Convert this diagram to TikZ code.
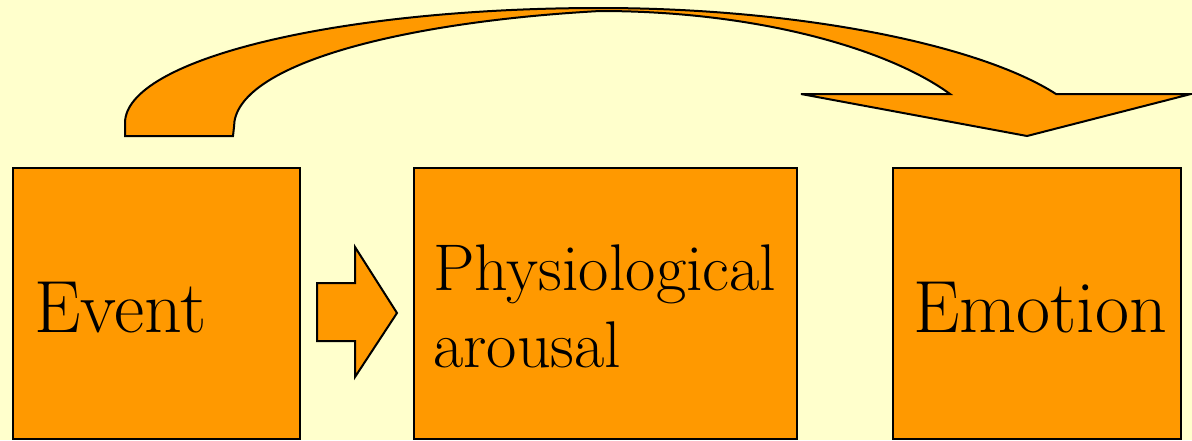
\documentclass[tikz,border=0pt]{standalone}
\usepackage{fontspec}
\definecolor{bgyellow}{HTML}{FFFFCC}
\definecolor{boxorange}{HTML}{FF9900}
\tikzset{
  boxstyle/.style={draw=black, fill=boxorange, line width=2pt},
  shapestyle/.style={draw=black, fill=boxorange, line width=2pt, line join=miter},
  bigtext/.style={font=\fontsize{74}{80}\selectfont, inner sep=0pt, anchor=base west},
  midtext/.style={font=\fontsize{66}{77}\selectfont, inner sep=0pt, anchor=base west, align=left}
}
\begin{document}
\begin{tikzpicture}[x=1pt,y=-1pt]
\fill[bgyellow] (0,0) rectangle (1192,440);
\useasboundingbox (0,0) rectangle (1192,440);
% boxes
\draw[boxstyle] (13,168) rectangle (300,439);
\draw[boxstyle] (414,168) rectangle (797,439);
\draw[boxstyle] (893,168) rectangle (1181,439);
% texts
\node[bigtext] (eventtext) at (34,332) {Event};
\node[midtext] (phystext1) at (433,290) {Physiological};
\node[midtext] (phystext2) at (433,367) {arousal};
\node[bigtext] (emotiontext) at (913,332) {Emotion};
% block arrow
\draw[shapestyle] (317,283) -- (355,283) -- (355,247) -- (397,313) -- (355,377) -- (355,341) -- (317,341) -- cycle;
% curved arrow
\draw[shapestyle] (125,136) -- (125,123)
  .. controls (125,59.5) and (337.7,8) .. (600,8)
  .. controls (800,8) and (980,45) .. (1056,94)
  -- (1191,94) -- (1027,136) -- (801,94) -- (950,94)
  .. controls (890,50) and (760,11) .. (600,11)
  .. controls (400,22) and (234,65) .. (234,127)
  -- (233,136) -- cycle;
\end{tikzpicture}
\end{document}
